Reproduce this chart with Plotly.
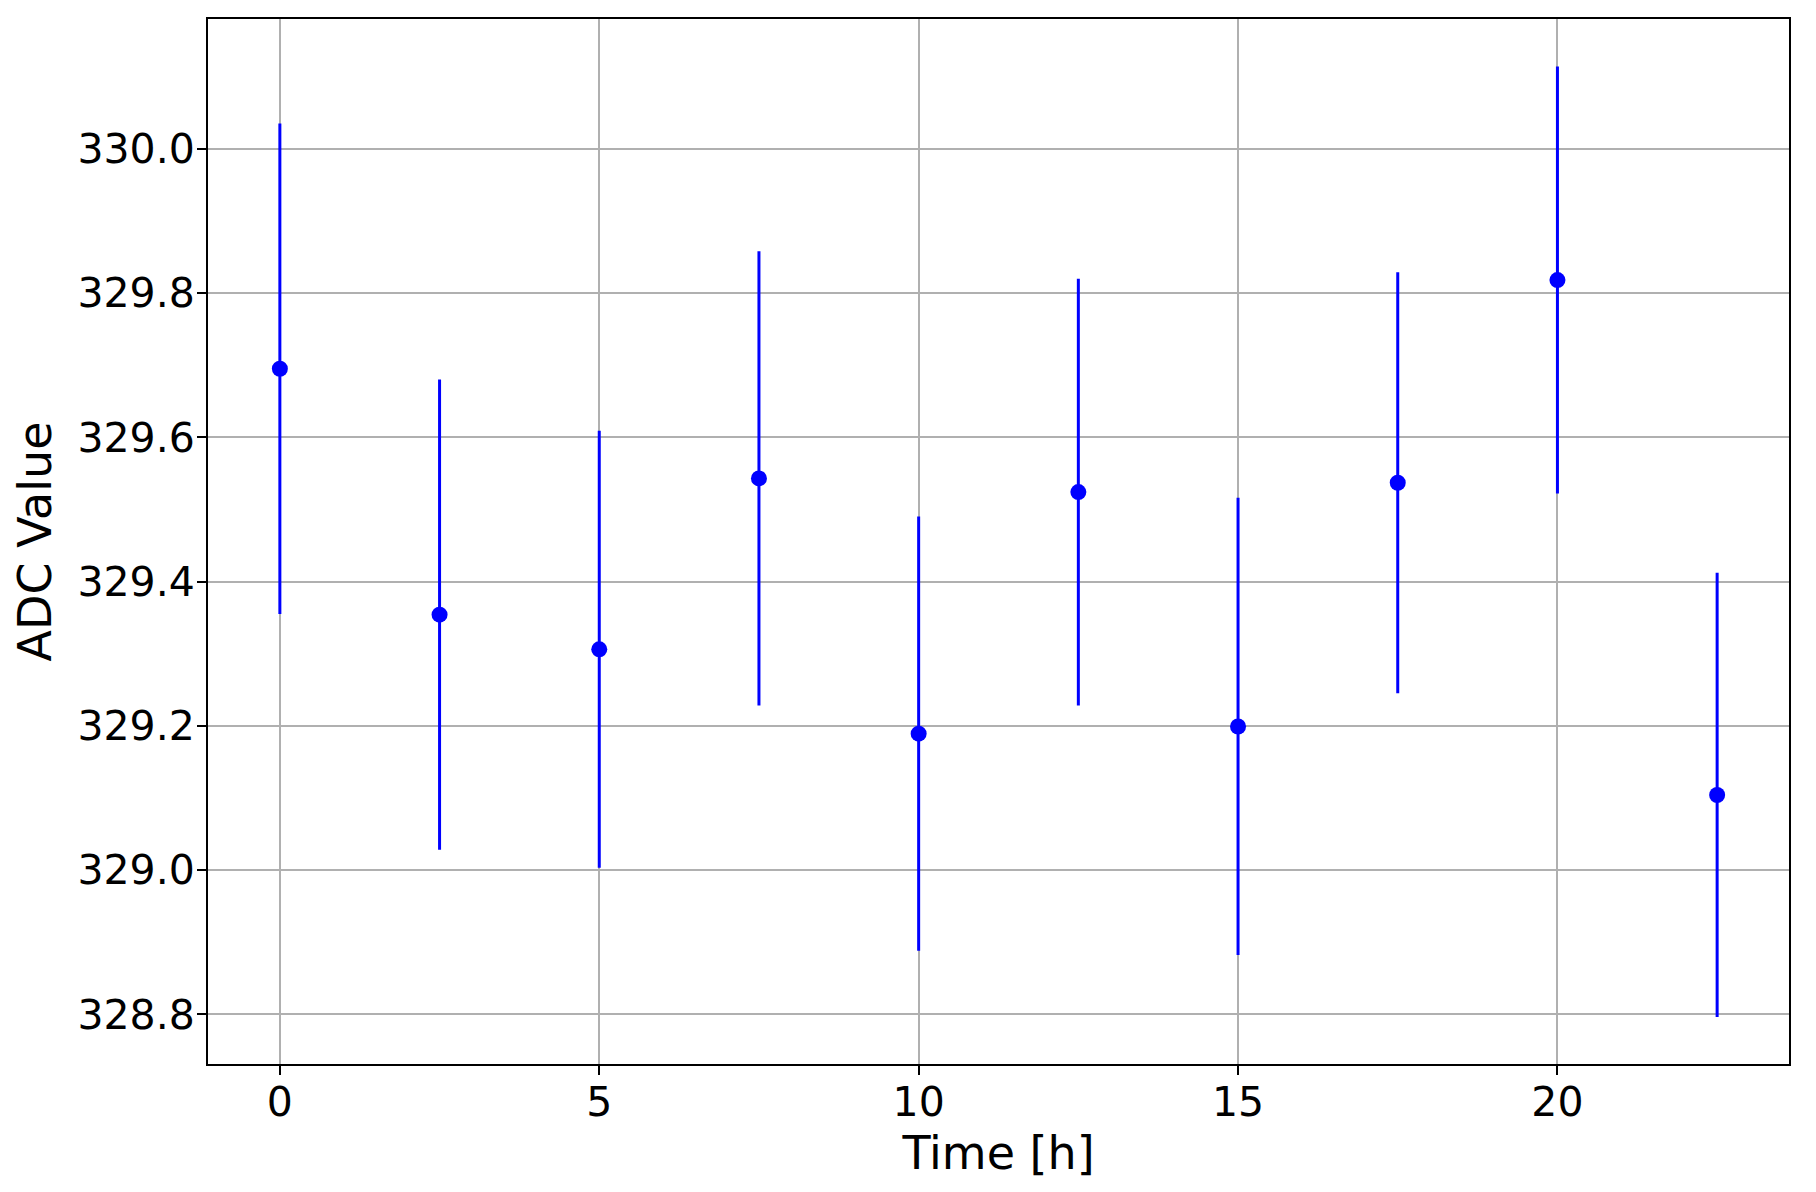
import plotly.graph_objects as go

time_h = [0, 2.5, 5, 7.5, 10, 12.5, 15, 17.5, 20, 22.5]
adc_value = [329.695, 329.354, 329.306, 329.543, 329.189, 329.524, 329.199, 329.537, 329.818, 329.104]
adc_error = [0.340, 0.326, 0.303, 0.315, 0.301, 0.296, 0.317, 0.292, 0.296, 0.308]

x_ticks = [0, 5, 10, 15, 20]
y_ticks = [328.8, 329.0, 329.2, 329.4, 329.6, 329.8, 330.0]

fig = go.Figure()
fig.add_trace(go.Scatter(
    x=time_h, y=adc_value, mode="markers",
    marker=dict(color="#0000ff", size=16),
    error_y=dict(type="data", array=adc_error, visible=True,
                 color="#0000ff", thickness=3, width=0),
    showlegend=False,
))

font_family = "DejaVu Sans"
axis_common = dict(
    showline=True, linecolor="black", linewidth=2, mirror=True,
    showgrid=True, gridcolor="#b0b0b0", gridwidth=1.5,
    ticks="outside", ticklen=9, tickwidth=2, tickcolor="black",
    zeroline=False,
    tickfont=dict(family=font_family, size=41, color="black"),
)

fig.update_layout(
    width=1816, height=1192,
    paper_bgcolor="white", plot_bgcolor="white",
    margin=dict(l=200, r=35, t=9, b=136),
    font=dict(family=font_family, color="black"),
    xaxis=dict(
        range=[-1.125, 23.625], tickvals=x_ticks,
        ticktext=[str(v) for v in x_ticks],
        ticklabelstandoff=-8,
        title=dict(text="Time [h]", font=dict(family=font_family, size=46), standoff=8),
        **axis_common,
    ),
    yaxis=dict(
        range=[328.731, 330.180], tickvals=y_ticks,
        ticktext=[f"{v:.1f}" for v in y_ticks],
        ticklabelstandoff=-6,
        title=dict(text="ADC Value", font=dict(family=font_family, size=46), standoff=12),
        **axis_common,
    ),
)

fig.write_html("out.html")
